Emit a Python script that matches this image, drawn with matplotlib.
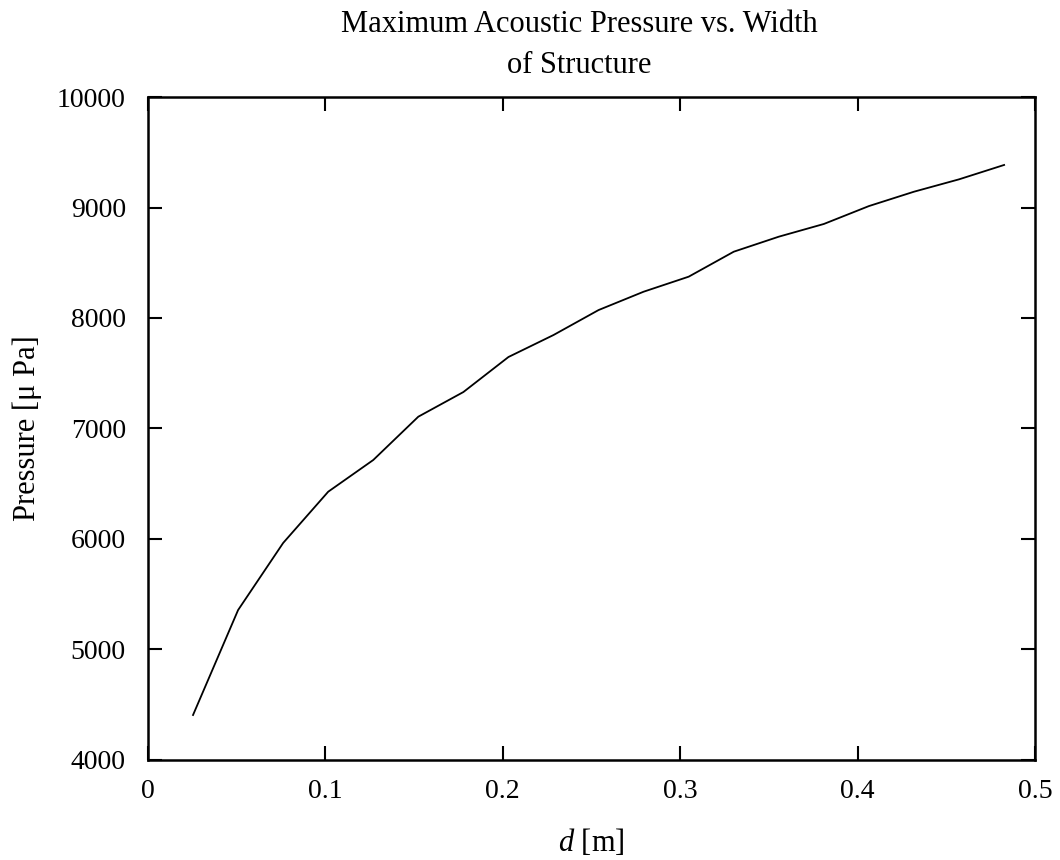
import matplotlib
matplotlib.use('Agg')
import matplotlib.pyplot as plt
from matplotlib.ticker import MultipleLocator

# width d in whole inches (0.0254 m steps), max pressure
d = [0.0254 * k for k in range(1, 20)]
pressure = [4407, 5357, 5964, 6428, 6715, 7107, 7330, 7647, 7846, 8072,
            8238, 8374, 8600, 8736, 8851, 9013, 9143, 9255, 9385]
xticks = [0, 0.1, 0.2, 0.3, 0.4, 0.5]
xticklabels = ['0', '0.1', '0.2', '0.3', '0.4', '0.5']

plt.rcParams['font.family'] = 'Liberation Serif'
plt.rcParams['mathtext.fontset'] = 'custom'
plt.rcParams['mathtext.it'] = 'Liberation Serif:italic'
plt.rcParams['mathtext.rm'] = 'Liberation Serif'

fig = plt.figure(figsize=(10.6, 8.6), dpi=100)
ax = fig.add_axes([0.1396, 0.1163, 0.8368, 0.7709])

ax.plot(d, pressure, color='black', linewidth=1.3)

ax.set_xlim(0, 0.5)
ax.set_ylim(4000, 10000)
ax.set_xticks(xticks)
ax.set_xticklabels(xticklabels)
ax.yaxis.set_major_locator(MultipleLocator(1000))

ax.tick_params(direction='in', length=10, width=1.5, top=True, right=True,
               labelsize=20)
ax.tick_params(axis='y', pad=16)
ax.tick_params(axis='x', pad=14)
for s in ax.spines.values():
    s.set_linewidth(1.8)

ax.set_title('Maximum Acoustic Pressure vs. Width\nof Structure', fontsize=22,
             x=0.486, pad=17, linespacing=1.58)
ax.set_xlabel(r'$d$ [m]', fontsize=22, labelpad=16)
ax.set_ylabel('Pressure [μ Pa]', fontsize=22, labelpad=11)

fig.savefig('out.png', dpi=100)
